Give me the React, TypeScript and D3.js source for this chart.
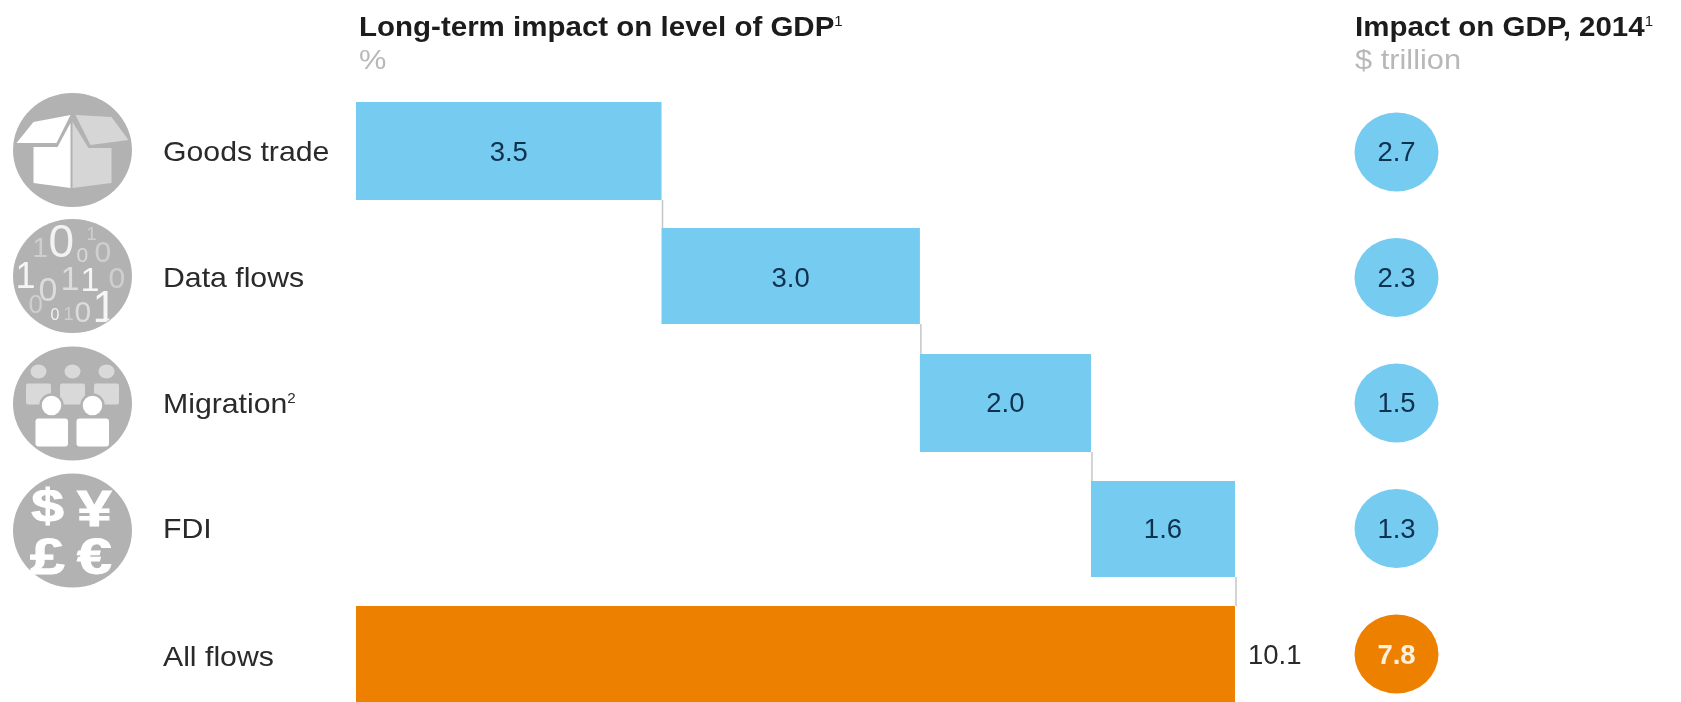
import React from "react";
import * as d3 from "d3";

const categories = ["Goods trade", "Data flows", "Migration", "FDI", "All flows"];
const barValues = [3.5, 2.96, 1.96, 1.65];
const barLabels = ["3.5", "3.0", "2.0", "1.6"];
const totalValue = 10.07;
const totalLabel = "10.1";
const circleLabels = ["2.7", "2.3", "1.5", "1.3", "7.8"];
const labelBaselines = [161, 287, 413, 538, 666];
const valueBaselines = [161, 287, 412, 538, 664];
const circleCenters = [152, 277.5, 403, 528.5, 654];
const barTops = [102, 228, 354, 481, 606];
const barBottoms = [200, 324, 452, 577, 702];
const iconCenters = [150, 276, 403.5, 530.5];

const FONT = "'Liberation Sans', Arial, sans-serif";
const BLUE = "#76CBF0";
const ORANGE = "#EE8000";
const GREY = "#B2B2B2";
const TEXT = "#2a2a2a";
const DARK = "#10304f";
const XS = 1.08;

const x = d3.scaleLinear().domain([0, totalValue]).range([356, 1235]);
const starts = d3.cumsum([0, ...barValues]);

function BoxIcon() {
  return (
    <g>
      <path d="M-39,-28 L-2,-35 L-16,-7 L-56,-7 Z" fill="#fff" />
      <path d="M3,-35 L39,-33 L56,-10 L18,-5 Z" fill="#d6d6d6" />
      <path d="M-39,-3 L-15,-3 L-2,-27 L-2,38 L-39,33 Z" fill="#fff" />
      <path d="M0,-28 L16,-2 L39,-2 L39,33 L0,38 Z" fill="#d6d6d6" />
    </g>
  );
}

const digitGlyphs: [string, number, number, number, string][] = [
  ["1", -40, -19, 28, "#cfcfcf"], ["0", -24, -19, 46, "#f2f2f2"], ["0", 4, -14, 21, "#d8d8d8"], ["1", 14, -36, 18, "#cfcfcf"], ["0", 22, -14, 30, "#cfcfcf"],
  ["1", -57, 12, 36, "#f5f5f5"], ["0", -34, 25, 34, "#dcdcdc"], ["1", -12, 14, 34, "#dcdcdc"], ["1", 8, 15, 34, "#f5f5f5"], ["0", 36, 12, 30, "#cfcfcf"],
  ["0", -44, 37, 26, "#cfcfcf"], ["0", -22, 44, 16, "#f2f2f2"], ["1", -9, 44, 18, "#cfcfcf"], ["0", 2, 46, 30, "#dcdcdc"], ["1", 20, 46, 44, "#f5f5f5"],
];

function DigitsIcon({ id }: { id: string }) {
  return (
    <g clipPath={`url(#${id})`}>
      {digitGlyphs.map(([t, gx, gy, s, c], i) => (
        <text key={i} x={gx} y={gy} fontSize={s} fill={c} fontFamily={FONT}>{t}</text>
      ))}
    </g>
  );
}

function PeopleIcon() {
  const back = [-34, 0, 34];
  return (
    <g>
      {back.map((dx) => (
        <g key={dx} fill="#d9d9d9">
          <ellipse cx={dx} cy={-32} rx={8} ry={7} />
          <rect x={dx - 12.5} y={-20} width={25} height={21} rx={2} />
        </g>
      ))}
      {[-21, 20].map((dx) => (
        <g key={dx} fill="#fff">
          <circle cx={dx} cy={2} r={11} stroke={GREY} strokeWidth={2.5} />
          <rect x={dx - 16} y={15} width={32.5} height={28} rx={3} />
        </g>
      ))}
    </g>
  );
}

function MoneyIcon() {
  const signs: [string, number, number, number][] = [["$", -25, -9, 47], ["¥", 22, -5, 50], ["£", -25, 43, 50], ["€", 22, 43, 50]];
  return (
    <g>
      {signs.map(([t, sx, sy, s]) => (
        <text key={t} transform={`translate(${sx},${sy}) scale(1.25,1)`} textAnchor="middle" fontSize={s} fontWeight={700} fill="#fff" stroke="#fff" strokeWidth={1} fontFamily={FONT}>{t}</text>
      ))}
    </g>
  );
}

function Stretched({ tx, ty, size, fill, weight, sx, children }: any) {
  return (
    <text transform={`translate(${tx},${ty}) scale(${sx ?? XS},1)`} fontSize={size} fontWeight={weight ?? 400} fill={fill}>{children}</text>
  );
}

export default function App() {
  const icons = [<BoxIcon />, <DigitsIcon id="digitClip" />, <PeopleIcon />, <MoneyIcon />];
  return (
    <svg width={1681} height={702} viewBox="0 0 1681 702" style={{ position: "absolute", left: 0, top: 0, background: "#fff" }} fontFamily={FONT}>
      <defs>
        <clipPath id="digitClip"><circle r={57} /></clipPath>
        <filter id="soft" x="-2%" y="-2%" width="104%" height="104%">
          <feGaussianBlur stdDeviation={0.6} />
        </filter>
      </defs>

      <g filter="url(#soft)">
        <Stretched tx={359} ty={36} size={27.5} sx={1.073} weight={700} fill="#1a1a1a">
          Long-term impact on level of GDP<tspan fontSize={14} dy={-10} fontWeight={400}>1</tspan>
        </Stretched>
        <Stretched tx={359} ty={69} size={28.5} fill="#b8b8b8">%</Stretched>
        <Stretched tx={1355} ty={36} size={27.5} sx={1.073} weight={700} fill="#1a1a1a">
          Impact on GDP, 2014<tspan fontSize={14} dy={-10} fontWeight={400}>1</tspan>
        </Stretched>
        <Stretched tx={1355} ty={69} size={28.5} fill="#b8b8b8">$ trillion</Stretched>

        {iconCenters.map((cy, i) => (
          <g key={i} transform={`translate(72.5,${cy})`}>
            <ellipse rx={59.5} ry={57} fill={GREY} />
            {icons[i]}
          </g>
        ))}

        {categories.map((c, i) => (
          <Stretched key={c} tx={163} ty={labelBaselines[i]} size={28} fill={TEXT}>
            {c}
            {c === "Migration" && <tspan fontSize={14} dy={-10}>2</tspan>}
          </Stretched>
        ))}

        {barValues.map((v, i) => (
          <g key={i}>
            <rect x={x(starts[i])} y={barTops[i]} width={x(starts[i + 1]) - x(starts[i])} height={barBottoms[i] - barTops[i]} fill={BLUE} />
            <line x1={x(starts[i + 1]) + 1} x2={x(starts[i + 1]) + 1} y1={barBottoms[i]} y2={barTops[i + 1]} stroke="#c6c6c6" strokeWidth={1.5} />
            <text x={x(starts[i] + v / 2)} y={valueBaselines[i]} textAnchor="middle" fontSize={27.5} fill={DARK}>{barLabels[i]}</text>
          </g>
        ))}
        <rect x={x(0)} y={barTops[4]} width={x(totalValue) - x(0)} height={barBottoms[4] - barTops[4]} fill={ORANGE} />
        <text x={1248} y={valueBaselines[4]} fontSize={27.5} fill={TEXT}>{totalLabel}</text>

        {circleLabels.map((t, i) => (
          <g key={i} transform={`translate(1396.5,${circleCenters[i]})`}>
            <ellipse rx={42} ry={39.5} fill={i === 4 ? ORANGE : BLUE} />
            <text y={valueBaselines[i] - circleCenters[i]} textAnchor="middle" fontSize={27.5} fontWeight={i === 4 ? 700 : 400} fill={i === 4 ? "#fdf0dc" : DARK}>{t}</text>
          </g>
        ))}
      </g>
    </svg>
  );
}
